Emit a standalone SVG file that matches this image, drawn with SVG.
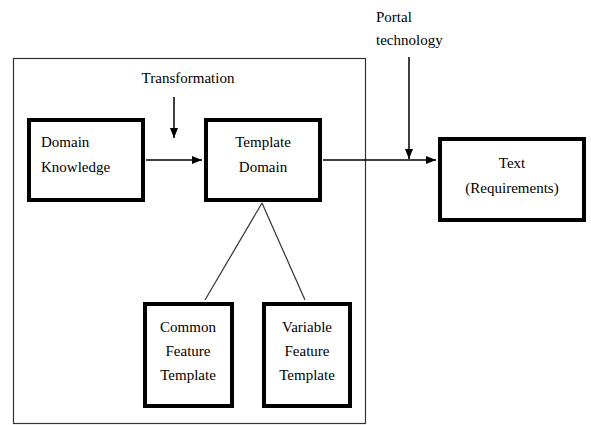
<svg xmlns="http://www.w3.org/2000/svg" width="591" height="425" viewBox="0 0 591 425">
<defs>
<marker id="ah" markerWidth="10" markerHeight="8" refX="10" refY="4" orient="auto" markerUnits="userSpaceOnUse">
<path d="M0,0 L10,4 L0,8 Z" fill="#000"/>
</marker>
<style>
.box{fill:#fff;stroke:#000;stroke-width:4}
.t{font-family:'Liberation Serif','Times New Roman',serif;font-size:15px;fill:#000}
.c{text-anchor:middle}
.ln{stroke:#000;stroke-width:1.5;fill:none}
.thin{stroke:#333;stroke-width:1.2;fill:none}
</style>
</defs>
<rect width="591" height="425" fill="#fff"/>
<g id="frame"><rect x="13.5" y="58.5" width="352" height="365" fill="none" stroke="#333" stroke-width="1.2"/></g>
<g id="connectors">
<line class="ln" x1="146" y1="160" x2="202" y2="160" marker-end="url(#ah)"/>
<line class="ln" x1="174" y1="97" x2="174" y2="138" marker-end="url(#ah)"/>
<line class="ln" x1="323" y1="160" x2="436" y2="160" marker-end="url(#ah)"/>
<line class="ln" x1="409" y1="57" x2="409" y2="159" marker-end="url(#ah)"/>
<line class="thin" x1="262" y1="203" x2="205" y2="300"/>
<line class="thin" x1="262" y1="203" x2="305" y2="300"/>
</g>
<g id="transformation"><text class="t c" x="188" y="83">Transformation</text></g>
<g id="portal"><text class="t" x="376" y="22">Portal</text><text class="t" x="376" y="45">technology</text></g>
<g id="domain-knowledge"><rect class="box" x="29" y="120" width="114" height="80"/><text class="t" x="41" y="147">Domain</text><text class="t" x="41" y="172">Knowledge</text></g>
<g id="template-domain"><rect class="box" x="206" y="120" width="114" height="80"/><text class="t c" x="263" y="147">Template</text><text class="t c" x="263" y="172">Domain</text></g>
<g id="text-req"><rect class="box" x="440" y="139" width="144" height="81"/><text class="t c" x="512" y="168">Text</text><text class="t c" x="512" y="193">(Requirements)</text></g>
<g id="common"><rect class="box" x="145" y="304" width="87" height="102"/><text class="t c" x="188" y="332">Common</text><text class="t c" x="188" y="356">Feature</text><text class="t c" x="188" y="380">Template</text></g>
<g id="variable"><rect class="box" x="264" y="304" width="86" height="102"/><text class="t c" x="307" y="332">Variable</text><text class="t c" x="307" y="356">Feature</text><text class="t c" x="307" y="380">Template</text></g>
</svg>
